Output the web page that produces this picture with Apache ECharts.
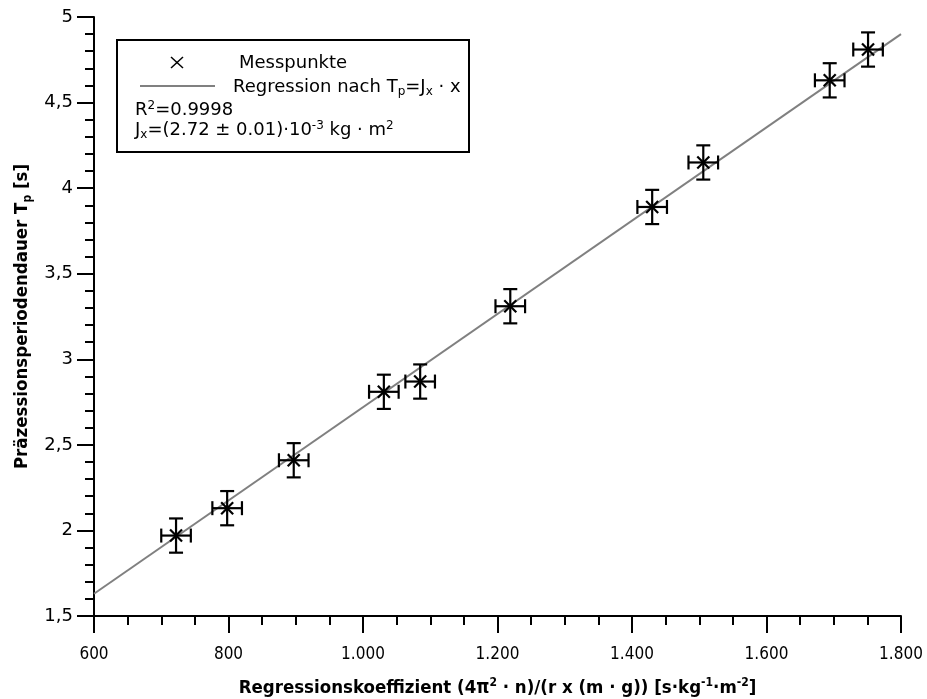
<!DOCTYPE html>
<html>
<head>
<meta charset="utf-8">
<title>Präzessionsperiodendauer</title>
<script src="https://cdn.jsdelivr.net/npm/echarts@6/dist/echarts.min.js"></script>
<style>
    html, body { margin: 0; padding: 0; background: #fff; }
    #chart { width: 927px; height: 699px; }
</style>
</head>
<body>
<div id="chart"></div>
<script>
// Messpunkte (x: Regressionskoeffizient, y: Tp in s)
const xValues = [722, 798, 897, 1031, 1085, 1219, 1430, 1506, 1694, 1751]
const yValues = [1.97, 2.13, 2.41, 2.81, 2.87, 3.31, 3.89, 4.15, 4.63, 4.81]
const xErrors = [22, 22, 22, 22, 22, 22, 22, 22, 22, 22]
const yErrors = [0.1, 0.1, 0.1, 0.1, 0.1, 0.1, 0.1, 0.1, 0.1, 0.1]

// Regressionsgerade Tp = Jx * x
const regX = [600, 1800]
const regY = [1.63, 4.90]

const legendLines = ['R{sup|2}=0.9998', 'J{sub|x}=(2.72 ± 0.01)·10{sup|-3} kg · m{sup|2}']

const font = 'DejaVu Sans'
const titleFont = 'DejaVu Sans Condensed'
const richSub = {
    sup: { fontFamily: font, fontSize: 12, verticalAlign: 'top', lineHeight: 21 },
    sub: { fontFamily: font, fontSize: 12, verticalAlign: 'bottom', lineHeight: 21 }
}
const richBold = {
    sup: { fontFamily: titleFont, fontWeight: 'bold', fontSize: 12, verticalAlign: 'top', lineHeight: 22 },
    sub: { fontFamily: titleFont, fontWeight: 'bold', fontSize: 12, verticalAlign: 'bottom', lineHeight: 22 }
}

const points = xValues.map((x, i) => [x, yValues[i], xErrors[i], yErrors[i]])
const regLine = regX.map((x, i) => [x, regY[i]])

function renderPoint(params, api) {
    const x = api.value(0)
    const y = api.value(1)
    const ex = api.value(2)
    const ey = api.value(3)
    const c = api.coord([x, y])
    const top = api.coord([x, y + ey])
    const bot = api.coord([x, y - ey])
    const lft = api.coord([x - ex, y])
    const rgt = api.coord([x + ex, y])
    const cap = 7
    const m = 6
    const style = { stroke: '#000', lineWidth: 2.2, fill: null }
    const seg = (x1, y1, x2, y2) => ({ type: 'line', shape: { x1, y1, x2, y2 }, style })
    return {
        type: 'group',
        children: [
            seg(top[0], top[1], bot[0], bot[1]),
            seg(top[0] - cap, top[1], top[0] + cap, top[1]),
            seg(bot[0] - cap, bot[1], bot[0] + cap, bot[1]),
            seg(lft[0], lft[1], rgt[0], rgt[1]),
            seg(lft[0], lft[1] - cap, lft[0], lft[1] + cap),
            seg(rgt[0], rgt[1] - cap, rgt[0], rgt[1] + cap),
            seg(c[0] - m, c[1] - m, c[0] + m, c[1] + m),
            seg(c[0] - m, c[1] + m, c[0] + m, c[1] - m)
        ]
    }
}

const chart = echarts.init(document.getElementById('chart'), null, { renderer: 'canvas' })

chart.setOption({
    animation: false,
    backgroundColor: '#fff',
    grid: {
        left: 94,
        right: 26,
        top: 17,
        bottom: 83,
        containLabel: false,
        outerBoundsMode: 'none'
    },
    xAxis: {
        type: 'value',
        min: 600,
        max: 1800,
        interval: 200,
        name: 'Regressionskoeffizient (4π{sup|2} · n)/(r x (m · g)) [s·kg{sup|-1}·m{sup|-2}]',
        nameLocation: 'middle',
        nameGap: 61,
        nameTextStyle: {
            fontFamily: titleFont,
            fontWeight: 'bold',
            fontSize: 18.5,
            color: '#000',
            rich: richBold
        },
        axisLine: { onZero: false, lineStyle: { color: '#000', width: 2 } },
        axisTick: { length: 17, lineStyle: { color: '#000', width: 2 } },
        minorTick: { show: true, splitNumber: 4, length: 9, lineStyle: { color: '#000', width: 2 } },
        splitLine: { show: false },
        axisLabel: {
            margin: 30,
            fontFamily: 'DejaVu Sans Condensed',
            fontSize: 17,
            color: '#000',
            formatter: v => v >= 1000 ? Math.floor(v / 1000) + '.' + String(v % 1000).padStart(3, '0') : String(v)
        }
    },
    yAxis: {
        type: 'value',
        min: 1.5,
        max: 5,
        interval: 0.5,
        name: 'Präzessionsperiodendauer T{sub|p} [s]',
        nameLocation: 'middle',
        nameGap: 57,
        nameTextStyle: {
            fontFamily: titleFont,
            fontWeight: 'bold',
            fontSize: 18.5,
            color: '#000',
            rich: richBold
        },
        axisLine: { show: true, onZero: false, lineStyle: { color: '#000', width: 2 } },
        axisTick: { show: true, length: 17, lineStyle: { color: '#000', width: 2 } },
        minorTick: { show: true, splitNumber: 5, length: 9, lineStyle: { color: '#000', width: 2 } },
        splitLine: { show: false },
        axisLabel: {
            margin: 21,
            fontFamily: font,
            fontSize: 18,
            color: '#000',
            formatter: v => String(v).replace('.', ',')
        }
    },
    series: [{
        name: 'Regression',
        type: 'line',
        data: regLine,
        symbol: 'none',
        clip: true,
        lineStyle: { color: '#808080', width: 2 },
        z: 2
    }, {
        name: 'Messpunkte',
        type: 'custom',
        data: points,
        renderItem: renderPoint,
        encode: { x: 0, y: 1 },
        z: 3
    }],
    graphic: [{
        type: 'rect',
        shape: { x: 117, y: 40, width: 352, height: 112 },
        style: { fill: '#fff', stroke: '#000', lineWidth: 2 },
        z: 10
    }, {
        type: 'line',
        shape: { x1: 171, y1: 57, x2: 183, y2: 68 },
        style: { stroke: '#000', lineWidth: 1.5 },
        z: 11
    }, {
        type: 'line',
        shape: { x1: 171, y1: 68, x2: 183, y2: 57 },
        style: { stroke: '#000', lineWidth: 1.5 },
        z: 11
    }, {
        type: 'line',
        shape: { x1: 140, y1: 86, x2: 215, y2: 86 },
        style: { stroke: '#808080', lineWidth: 2 },
        z: 11
    }, {
        type: 'text',
        x: 239,
        y: 63,
        style: { text: 'Messpunkte', font: '18px "DejaVu Sans"', fill: '#000', align: 'left', verticalAlign: 'middle' },
        z: 11
    }, {
        type: 'text',
        x: 233,
        y: 87,
        style: {
            text: 'Regression nach T{sub|p}=J{sub|x} · x',
            fontFamily: font, fontSize: 18, fill: '#000', align: 'left', verticalAlign: 'middle',
            lineHeight: 21, rich: richSub
        },
        z: 11
    }, {
        type: 'text',
        x: 135,
        y: 110,
        style: {
            text: legendLines[0],
            fontFamily: font, fontSize: 18, fill: '#000', align: 'left', verticalAlign: 'middle',
            lineHeight: 21, rich: richSub
        },
        z: 11
    }, {
        type: 'text',
        x: 135,
        y: 130,
        style: {
            text: legendLines[1],
            fontFamily: font, fontSize: 18, fill: '#000', align: 'left', verticalAlign: 'middle',
            lineHeight: 21, rich: richSub
        },
        z: 11
    }]
})
</script>
</body>
</html>
